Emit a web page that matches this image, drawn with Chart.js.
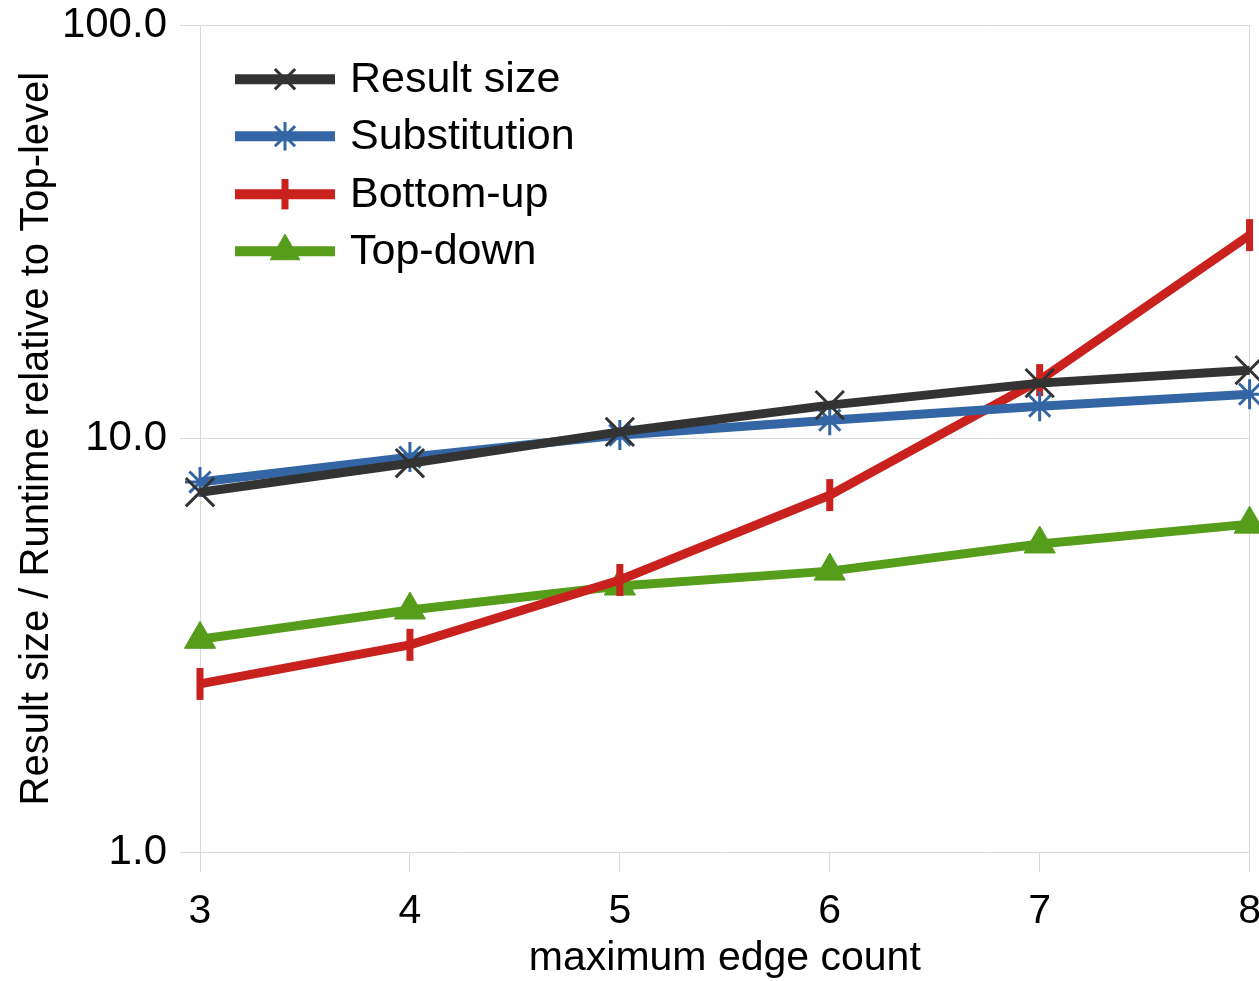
<!DOCTYPE html>
<html>
<head>
<meta charset="utf-8">
<script src="https://cdn.jsdelivr.net/npm/chart.js@4/dist/chart.umd.min.js"></script>
<style>
  html, body { margin: 0; padding: 0; background: #ffffff; overflow: hidden; }
  #wrap { position: relative; width: 1259px; height: 981px; overflow: hidden; }
  #inner { position: absolute; left: 0; top: -13px; width: 1276px; height: 994px; }
</style>
</head>
<body>
<div id="wrap"><div id="inner"><canvas id="c"></canvas></div></div>
<script>
// ---- data ----
const categories = ['3', '4', '5', '6', '7', '8'];
const resultSize   = [7.42, 8.72, 10.38, 12.05, 13.62, 14.64];
const substitution = [7.85, 9.02, 10.2, 11.08, 11.98, 12.81];
const bottomUp     = [2.55, 3.17, 4.55, 7.30, 13.85, 31.06];
const topDown      = [3.27, 3.85, 4.40, 4.78, 5.56, 6.21];
const seriesNames  = ['Result size', 'Substitution', 'Bottom-up', 'Top-down'];
const yTickValues  = [1, 10, 100];
const yTickLabels  = ['1.0', '10.0', '100.0'];
const xTitle = 'maximum edge count';
const yTitle = 'Result size / Runtime relative to Top-level';

const FONT = "'Liberation Sans', Arial, sans-serif";
const COLORS = ['#333333', '#3465a4', '#c9211e', '#579d1c'];

function ds(label, data, color, style, radius, bw, rotation) {
  return {
    label, data,
    borderColor: color, backgroundColor: color,
    borderWidth: 9,
    tension: 0,
    clip: false,
    pointStyle: style,
    pointRadius: radius,
    pointRotation: rotation || 0,
    pointBorderColor: color,
    pointBackgroundColor: color,
    pointBorderWidth: bw,
    pointHoverRadius: radius
  };
}

const datasets = [
  ds(seriesNames[0], resultSize, COLORS[0], 'crossRot', 20, 3),
  ds(seriesNames[1], substitution, COLORS[1], 'star', 15, 3),
  ds(seriesNames[2], bottomUp, COLORS[2], 'line', 16, 7, 90),
  ds(seriesNames[3], topDown, COLORS[3], 'triangle', 18, 1)
];

// custom legend drawn inside plot area (line with marker in the middle)
const insideLegend = {
  id: 'insideLegend',
  afterDatasetsDraw(chart) {
    const ctx = chart.ctx;
    const a = chart.chartArea;
    const rowOff = [54, 111, 169, 226];
    const x0 = a.left + 35, x1 = a.left + 135, tx = a.left + 150;
    chart.data.datasets.forEach((d, i) => {
      const y = a.top + rowOff[i];
      ctx.save();
      ctx.strokeStyle = d.borderColor;
      ctx.lineWidth = 10;
      ctx.lineCap = 'butt';
      ctx.beginPath();
      ctx.moveTo(x0, y); ctx.lineTo(x1, y);
      ctx.stroke();
      ctx.fillStyle = d.pointBackgroundColor;
      ctx.strokeStyle = d.pointBorderColor;
      ctx.lineWidth = d.pointBorderWidth;
      Chart.helpers.drawPoint(ctx, {
        pointStyle: d.pointStyle,
        rotation: d.pointRotation,
        radius: d.pointRadius * (d.pointStyle === 'crossRot' ? 0.72 : 0.95),
        borderWidth: d.pointBorderWidth
      }, (x0 + x1) / 2, y);
      ctx.fillStyle = '#000000';
      ctx.font = '43px ' + FONT;
      ctx.textBaseline = 'middle';
      ctx.textAlign = 'left';
      ctx.fillText(d.label, tx, y + 1);
      ctx.restore();
    });
  }
};

new Chart(document.getElementById('c'), {
  type: 'line',
  data: { labels: categories, datasets },
  options: {
    responsive: true,
    maintainAspectRatio: false,
    animation: false,
    layout: { padding: 0 },
    plugins: {
      legend: { display: false },
      tooltip: { enabled: false }
    },
    scales: {
      x: {
        type: 'category',
        offset: false,
        afterFit(s) { s.height = 129; },
        grid: {
          display: true,
          drawOnChartArea: true,
          color: (c) => (c.index === categories.length - 1 ? '#d9d9d9' : 'rgba(0,0,0,0)'),
          tickColor: '#d9d9d9',
          tickLength: 20,
          lineWidth: 1
        },
        border: { display: false },
        ticks: {
          color: '#000000',
          font: { family: FONT, size: 41 },
          padding: 15,
          maxRotation: 0,
          autoSkip: false
        },
        title: {
          display: true,
          text: xTitle,
          color: '#000000',
          font: { family: FONT, size: 41 },
          padding: { top: 0, bottom: -2 }
        }
      },
      y: {
        type: 'logarithmic',
        min: 1,
        max: 100,
        afterFit(s) { s.width = 200; },
        afterBuildTicks(s) { s.ticks = yTickValues.map(v => ({ value: v })); },
        grid: {
          color: '#d9d9d9',
          tickColor: '#d9d9d9',
          tickLength: 20,
          lineWidth: 1
        },
        border: { display: true, color: '#d9d9d9', width: 1 },
        ticks: {
          color: '#000000',
          font: { family: FONT, size: 42 },
          padding: 13,
          callback: (v) => {
            const i = yTickValues.indexOf(v);
            return i >= 0 ? yTickLabels[i] : '';
          }
        },
        title: {
          display: true,
          text: yTitle,
          color: '#000000',
          font: { family: FONT, size: 40 },
          padding: { top: 13, bottom: 0 }
        }
      }
    }
  },
  plugins: [insideLegend]
});
</script>
</body>
</html>
